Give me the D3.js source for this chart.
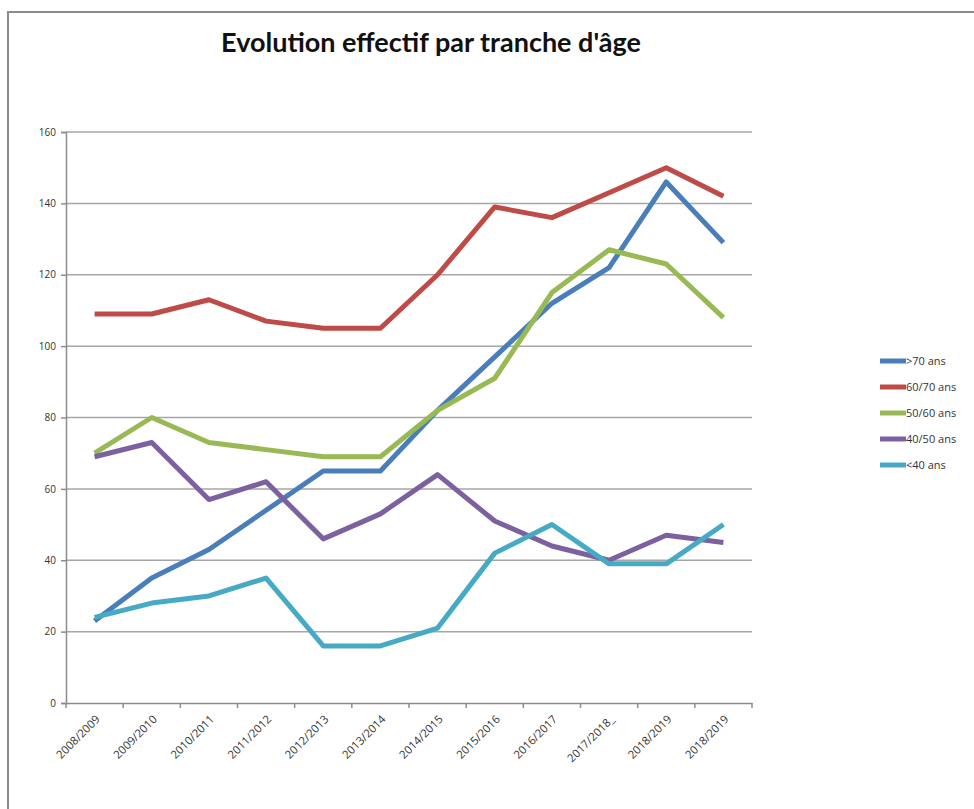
<!DOCTYPE html>
<html>
  <head>
    <title>Evolution effectif par tranche d'âge</title>
    <script src="https://d3js.org/d3.v7.min.js"></script>
    <style>
      body { margin: 0; background: #fff; }
      svg { display: block; }
    </style>
  </head>
  <body>
    <div id="chart"></div>
    <script>
      // data
      const seasons = ["2008/2009", "2009/2010", "2010/2011", "2011/2012", "2012/2013", "2013/2014",
                       "2014/2015", "2015/2016", "2016/2017", "2017/2018_", "2018/2019", "2018/2019 "];
      const over70  = [23, 35, 43, 54, 65, 65, 82, 97, 112, 122, 146, 129];
      const s60_70  = [109, 109, 113, 107, 105, 105, 120, 139, 136, 143, 150, 142];
      const s50_60  = [70, 80, 73, 71, 69, 69, 82, 91, 115, 127, 123, 108];
      const s40_50  = [69, 73, 57, 62, 46, 53, 64, 51, 44, 40, 47, 45];
      const under40 = [24, 28, 30, 35, 16, 16, 21, 42, 50, 39, 39, 50];
      const seriesNames = [">70 ans", "60/70 ans", "50/60 ans", "40/50 ans", "<40 ans"];
      const yTicks = [0, 20, 40, 60, 80, 100, 120, 140, 160];

      const series = [over70, s60_70, s50_60, s40_50, under40];
      const colors = ["#4a7ebb", "#be4b48", "#98b954", "#7d60a0", "#46aac5"];

      const W = 974, H = 809;
      const margin = {top: 132, left: 66, right: 222, bottom: 106};
      const width = W - margin.left - margin.right,
            height = H - margin.top - margin.bottom;

      const svg = d3.select("#chart").append("svg")
          .attr("width", W).attr("height", H);

      // outer frame (only top and left edges are visible)
      svg.append("path")
        .attr("d", `M8,${H} L8,12 L${W},12`)
        .attr("fill", "none").attr("stroke", "#8c8c8c").attr("stroke-width", 2);

      svg.append("text").text("Evolution effectif par tranche d'âge")
        .attr("x", 431).attr("y", 52)
        .attr("text-anchor", "middle")
        .attr("font-family", "Lato, sans-serif")
        .attr("font-weight", "bold")
        .attr("font-size", "27px")
        .attr("fill", "#111");

      const g = svg.append("g").attr("transform", `translate(${margin.left},${margin.top})`);

      const x = d3.scaleBand().domain(seasons).range([0, width]);
      const y = d3.scaleLinear().domain([0, 160]).range([height, 0]);

      // grid lines
      g.append("g").selectAll("line")
        .data(yTicks.filter(d => d > 0))
        .join("line")
          .attr("x1", 0).attr("x2", width)
          .attr("y1", d => y(d)).attr("y2", d => y(d))
          .attr("stroke", "#a6a6a6").attr("stroke-width", 1.5);

      // y axis
      const yAxis = g.append("g")
        .call(d3.axisLeft(y).tickValues(yTicks).tickSize(5).tickPadding(5));
      yAxis.select(".domain").attr("stroke", "#8c8c8c").attr("stroke-width", 1.5);
      yAxis.selectAll(".tick line").attr("stroke", "#8c8c8c").attr("stroke-width", 1.5);
      yAxis.selectAll("text")
        .attr("font-family", "'Open Sans', sans-serif")
        .attr("font-size", "10px").attr("fill", "#333");

      // x axis, ticks between categories like a spreadsheet chart
      const xAxis = g.append("g").attr("transform", `translate(0,${height})`)
        .call(d3.axisBottom(x).tickSize(0).tickPadding(0));
      xAxis.select(".domain").attr("stroke", "#8c8c8c").attr("stroke-width", 1.5);
      xAxis.selectAll(".tick").append("line")
        .attr("x1", -x.bandwidth() / 2).attr("x2", -x.bandwidth() / 2)
        .attr("y1", 0).attr("y2", 5)
        .attr("stroke", "#8c8c8c").attr("stroke-width", 1.5);
      xAxis.append("line")
        .attr("x1", width).attr("x2", width).attr("y1", 0).attr("y2", 5)
        .attr("stroke", "#8c8c8c").attr("stroke-width", 1.5);
      xAxis.selectAll(".tick text")
        .text(d => d.trim())
        .attr("font-family", "'Open Sans', sans-serif")
        .attr("font-size", "11.3px").attr("fill", "#333")
        .attr("text-anchor", "end")
        .attr("dy", 0)
        .attr("transform", "translate(6,17) rotate(-45)");

      // series lines
      const line = d3.line()
        .x((d, i) => x(seasons[i]) + x.bandwidth() / 2)
        .y(d => y(d));

      g.append("g").selectAll("path")
        .data(series)
        .join("path")
          .attr("d", line)
          .attr("fill", "none")
          .attr("stroke", (d, i) => colors[i])
          .attr("stroke-width", 5)
          .attr("stroke-linejoin", "round");

      // legend
      const legend = svg.append("g").attr("transform", "translate(880,361)");
      const row = legend.selectAll("g")
        .data(seriesNames)
        .join("g")
          .attr("transform", (d, i) => `translate(0,${i * 26})`);
      row.append("line")
        .attr("x1", 0).attr("x2", 26)
        .attr("stroke", (d, i) => colors[i]).attr("stroke-width", 5);
      row.append("text").text(d => d)
        .attr("x", 26).attr("dy", "0.35em")
        .attr("font-family", "'Open Sans', sans-serif")
        .attr("font-size", "11px").attr("fill", "#333");
    </script>
  </body>
</html>
